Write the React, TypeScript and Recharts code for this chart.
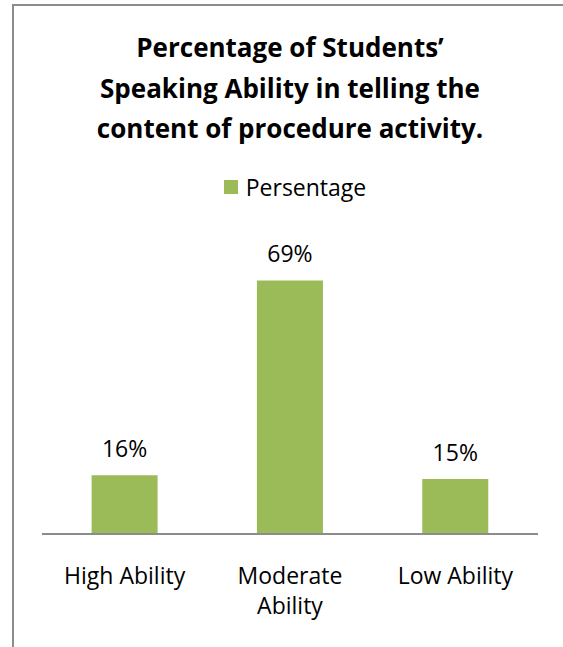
import React from 'react';
import { BarChart, Bar, XAxis, YAxis, Legend, LabelList } from 'recharts';

const categories = ['High Ability', 'Moderate Ability', 'Low Ability'];
const persentage = [16, 69, 15];
const seriesName = 'Persentage';
const titleLines = ['Percentage of Students’', 'Speaking Ability in telling the', 'content of procedure activity.'];

const data = categories.map((c, i) => ({ name: c, value: persentage[i] }));

const FONT = '"Open Sans", sans-serif';

const CategoryTick = ({ x, y, payload }: any) => {
  const label: string = payload.value;
  const lines = label.length > 13 ? label.split(' ') : [label];
  return (
    <text x={x} y={y + 42} textAnchor="middle" fill="#000" fontSize={23} fontFamily={FONT}>
      {lines.map((l, i) => (
        <tspan key={i} x={x} dy={i === 0 ? 0 : 30}>{l}</tspan>
      ))}
    </text>
  );
};

const LegendContent = () => (
  <div style={{ display: 'flex', justifyContent: 'center', alignItems: 'center', fontFamily: FONT, fontSize: 23 }}>
    <span style={{ display: 'inline-block', width: 14, height: 14, background: '#9BBB59', marginRight: 8 }} />
    <span style={{ color: '#000' }}>{seriesName}</span>
  </div>
);

export default function App() {
  return (
    <div style={{ position: 'absolute', left: 0, top: 0, width: 563, height: 647, overflow: 'hidden', background: '#fff' }}>
      <div style={{ position: 'absolute', left: 12, top: 4, width: 700, height: 800, border: '2px solid #8c8c8c' }} />
      <div style={{ position: 'absolute', left: 0, top: 27, width: 580, textAlign: 'center', fontFamily: FONT, fontWeight: 700, fontSize: 26, lineHeight: '40.5px', color: '#000' }}>
        {titleLines.map((t, i) => <div key={i}>{t}</div>)}
      </div>
      <BarChart width={563} height={647} data={data} margin={{ top: 208, right: 25, left: 42, bottom: 83 }} barCategoryGap="30%">
        <XAxis dataKey="name" tick={<CategoryTick />} tickLine={false} axisLine={{ stroke: '#8c8c8c', strokeWidth: 2 }} interval={0} />
        <YAxis hide domain={[0, 80]} />
        <Legend verticalAlign="top" content={<LegendContent />} wrapperStyle={{ top: 171, left: 0, width: 590 }} />
        <Bar dataKey="value" name={seriesName} fill="#9BBB59" isAnimationActive={false}>
          <LabelList dataKey="value" position="top" offset={18} formatter={(v: any) => `${v}%`} fill="#000" fontSize={23} fontFamily={FONT} />
        </Bar>
      </BarChart>
    </div>
  );
}
